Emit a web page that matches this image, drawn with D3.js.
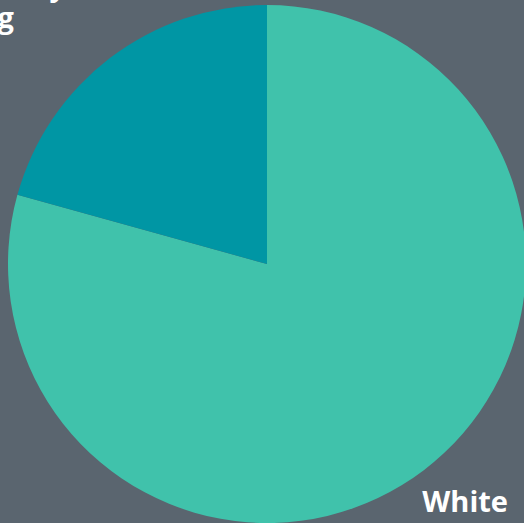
<!DOCTYPE html>
<html>
<head>
<meta charset="utf-8">
<script src="https://cdn.jsdelivr.net/npm/d3@7"></script>
<style>
  html, body { margin: 0; padding: 0; background: #5a656f; overflow: hidden; }
  svg { display: block; }
</style>
</head>
<body>
<svg id="chart" width="524" height="523"></svg>
<script>
// data
const categories = ["White", "Ethnic Minority"];
const values = [79.3, 20.7];
const colors = ["#40c2ab", "#0096a4"];

const svg = d3.select("#chart");
const cx = 267, cy = 264, radius = 259;

const pie = d3.pie().sort(null).value(d => d)(values);
const arc = d3.arc().innerRadius(0).outerRadius(radius);

const g = svg.append("g").attr("transform", `translate(${cx}, ${cy})`);
g.selectAll("path.slice")
    .data(pie)
    .join("path")
    .attr("class", "slice")
    .attr("d", arc)
    .style("fill", (d, i) => colors[i]);

// labels (second one mostly cut off at the top left, as in the original)
const font = "'Open Sans', Lato, sans-serif";
svg.append("text")
    .attr("x", 508)
    .attr("y", 512)
    .attr("text-anchor", "end")
    .style("font-family", font)
    .style("font-weight", "bold")
    .style("font-size", "29px")
    .style("fill", "white")
    .text(categories[0]);

const minor = svg.append("text")
    .attr("text-anchor", "end")
    .style("font-family", font)
    .style("font-weight", "bold")
    .style("font-size", "29px")
    .style("fill", "white");
minor.append("tspan").attr("x", 66).attr("y", -4).text("Ethnic Minority");
minor.append("tspan").attr("x", 14).attr("y", 28).text("Grouping");
</script>
</body>
</html>
